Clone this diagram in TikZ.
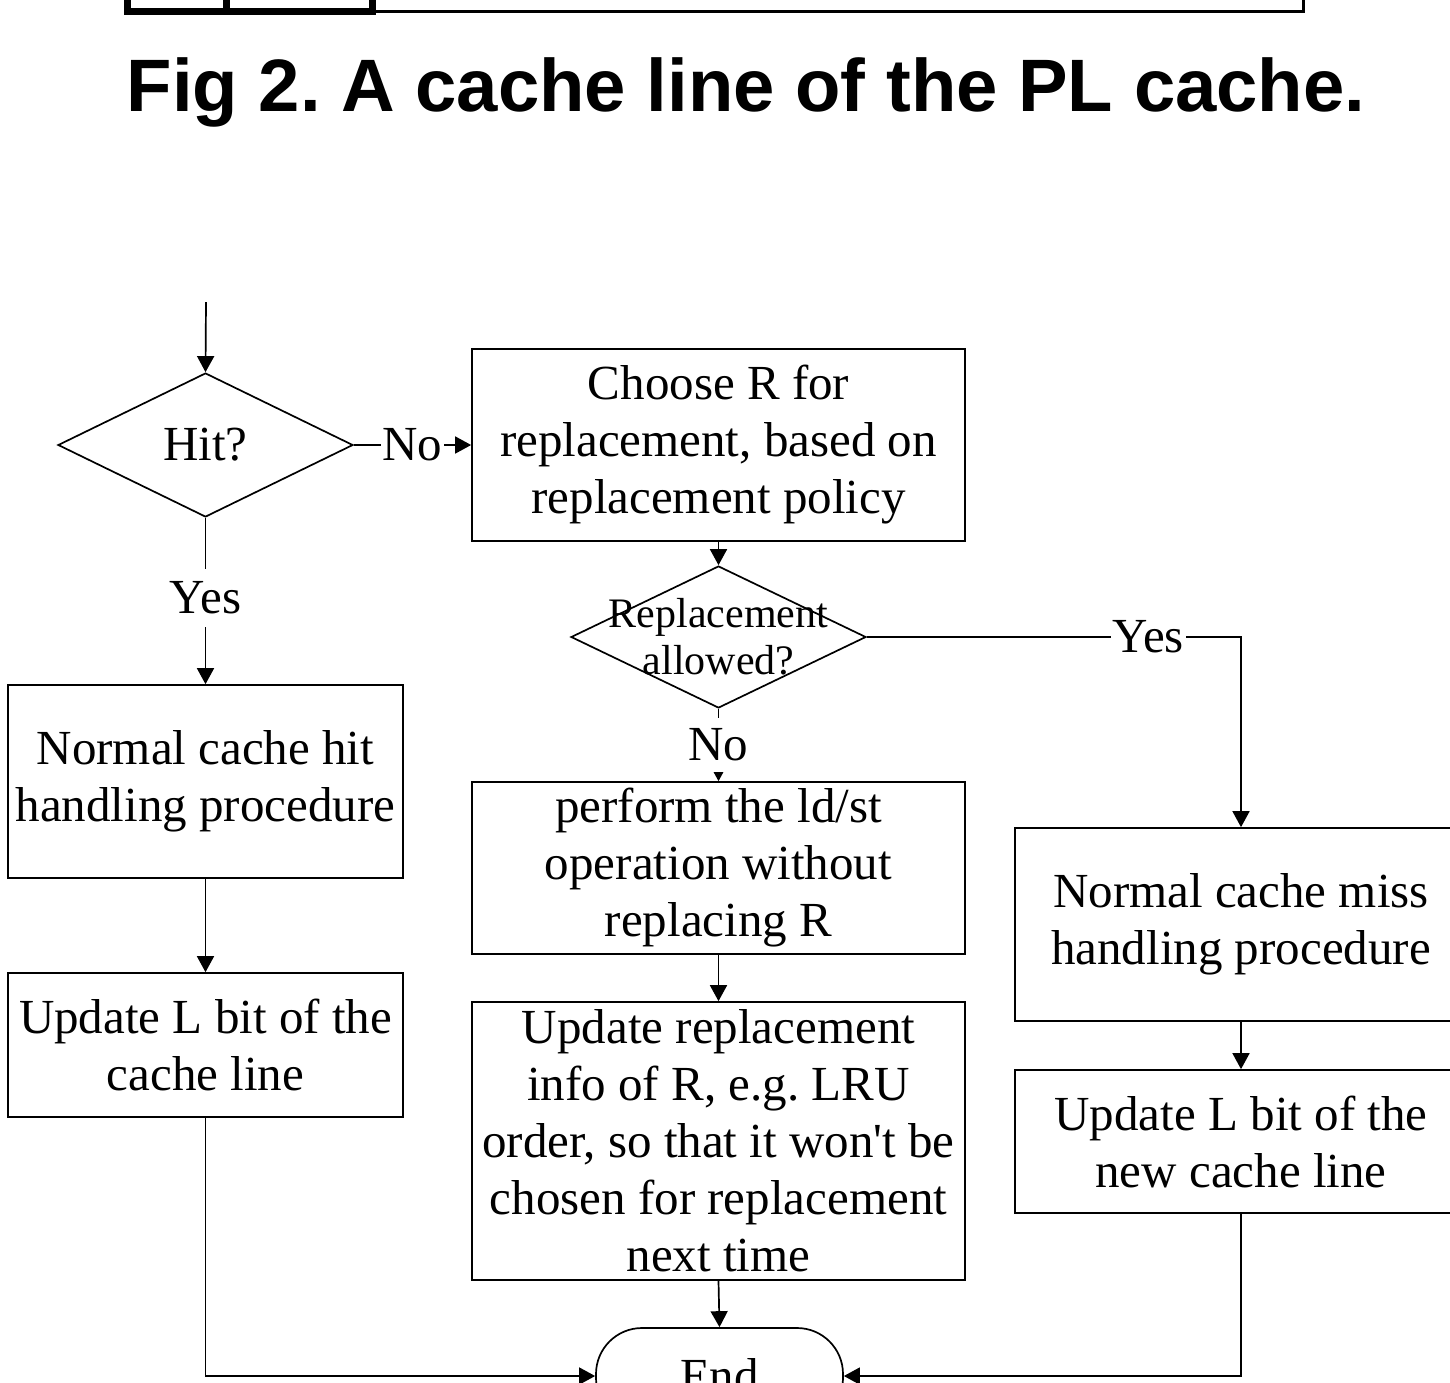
\documentclass[tikz,border=0pt]{standalone}
\usepackage{fontspec}
\setmainfont{Liberation Serif}
\newfontfamily\titlefont{Liberation Sans}
\usetikzlibrary{shapes.geometric, arrows.meta}

\tikzset{
  bodyfont/.style={font=\fontsize{49}{57}\selectfont},
  stepbox/.style={draw, line width=1.7pt, rectangle, align=center, inner sep=0pt, bodyfont},
  decision/.style={draw, line width=1.7pt, diamond, inner sep=0pt},
  terminal/.style={draw, line width=1.7pt, rectangle, rounded corners=46pt, align=center, inner sep=0pt, bodyfont},
  link/.style={line width=1.7pt},
  flow/.style={line width=1.7pt, -{Triangle[length=16pt,width=17pt]}},
  lbl/.style={fill=white, inner sep=2pt, bodyfont},
  vlbl/.style={fill=white, inner xsep=2pt, inner ysep=13pt, bodyfont},
}

\begin{document}
\frenchspacing
\begin{tikzpicture}[x=1pt, y=-1pt]
\useasboundingbox (0,0) rectangle (1450,1382);
\clip (0,0) rectangle (1450,1382);

% bottom edge of the cache-line layout above the caption
\draw[line width=7pt] (127.5,-10) -- (127.5,11.5) -- (372.5,11.5) -- (372.5,-10);
\draw[line width=7pt] (226,-10) -- (226,11.5);
\draw[line width=3.5pt] (372.5,11.5) -- (1303.5,11.5) -- (1303.5,-10);

% caption
\node[anchor=base, inner sep=0pt, font=\titlefont\bfseries\fontsize{74.3}{80}\selectfont] (title) at (746,111) {Fig 2. A cache line of the PL cache.};

% flowchart
\coordinate (start) at (206,302);
\node[decision, minimum width=295pt, minimum height=144pt] (hit) at (205.5,445) {};
\node[bodyfont, inner sep=0pt] (hittxt) at (hit.center) {Hit?};

\node[stepbox, minimum width=493pt, minimum height=192pt] (choose) at (718.5,445)
  {Choose R for\\replacement, based on\\replacement policy};

\node[decision, minimum width=295pt, minimum height=142pt] (allow) at (718.5,637) {};
\node[inner sep=0pt, align=center, font=\fontsize{42}{47}\selectfont] (allowtxt) at (allow.center) {Replacement\\allowed?};

\node[stepbox, minimum width=493pt, minimum height=172pt] (perform) at (718.5,868)
  {perform the ld/st\\operation without\\replacing R};

\node[stepbox, minimum width=493pt, minimum height=278pt] (upd) at (718.5,1141)
  {Update replacement\\info of R, e.g. LRU\\order, so that it won\textquotesingle t be\\chosen for replacement\\next time};

\node[terminal, minimum width=247pt, minimum height=96pt] (end) at (719.5,1376) {End};

\node[stepbox, minimum width=395pt, minimum height=193pt] (hitproc) at (205.5,781.5)
  {Normal cache hit\\handling procedure};
\node[stepbox, minimum width=395pt, minimum height=144pt] (lbit) at (205.5,1045)
  {Update L bit of the\\cache line};

\node[stepbox, minimum width=452pt, minimum height=193pt] (miss) at (1241,924.5)
  {Normal cache miss\\handling procedure};
\node[stepbox, minimum width=452pt, minimum height=143pt] (newl) at (1241,1141.5)
  {Update L bit of the\\new cache line};

% branch labels on vertical connectors
\node[vlbl] (yeshit) at (205.5,598) {Yes};

% connectors
\draw[flow] (start) -- (hit.north);
\draw[flow] (hit.east) -- node[lbl] {No} (choose.west);
\draw[flow] (choose.south) -- (allow.north);
\draw[flow] (allow.south) -- (perform.north);
\node[vlbl, inner ysep=11pt] (noallow) at (718.5,745) {No};
\draw[flow] (perform.south) -- (upd.north);
\draw[flow] (upd.south) -- (end.north);
\draw[link] (hit.south) -- (yeshit);
\draw[flow] (yeshit) -- (hitproc.north);
\draw[flow] (hitproc.south) -- (lbit.north);
\draw[flow] (lbit.south) |- (end.west);
\draw[flow] (allow.east) -| node[lbl, pos=0.376] {Yes} (miss.north);
\draw[flow] (miss.south) -- (newl.north);
\draw[flow] (newl.south) |- (end.east);
\end{tikzpicture}
\end{document}
